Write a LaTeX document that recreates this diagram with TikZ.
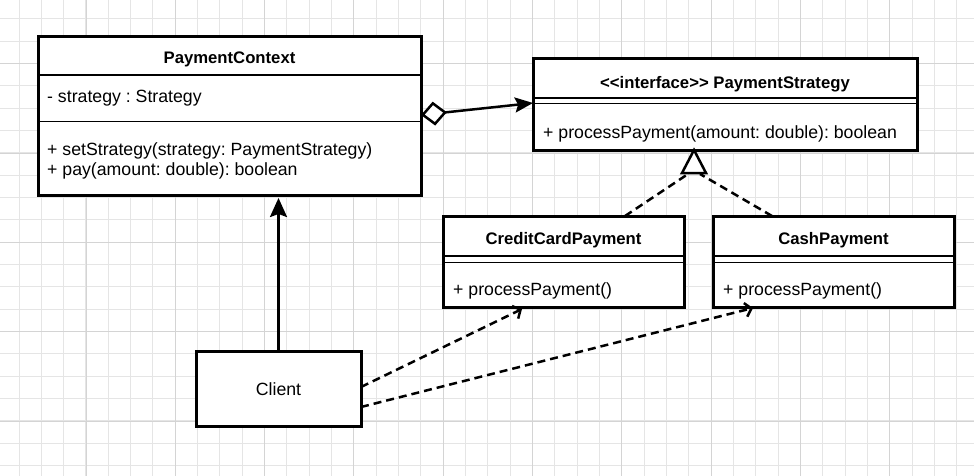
\documentclass[tikz,border=0pt]{standalone}
\usepackage{fontspec}
\setmainfont{Liberation Sans}
\usetikzlibrary{arrows.meta,calc}

\definecolor{gridminor}{gray}{0.9}
\definecolor{gridmajor}{gray}{0.83}

\tikzset{
  umlbox/.style={draw=black, line width=3pt, fill=white, rectangle,
                 inner sep=0pt, outer sep=0pt, anchor=north west},
  headrule/.style={line width=2pt},
  thinrule/.style={line width=1pt},
  classname/.style={font=\fontsize{16.7}{20}\selectfont\bfseries, inner sep=0pt, anchor=base},
  member/.style={font=\fontsize{17.7}{20}\selectfont, inner sep=0pt, anchor=base west},
  link/.style={line width=2.5pt},
  dashlink/.style={link, dash pattern=on 8pt off 5pt},
  minorline/.style={draw=gridminor, line width=1pt},
  majorline/.style={draw=gridmajor, line width=1pt},
}

\begin{document}
\frenchspacing
\begin{tikzpicture}[x=1pt, y=-1pt]
\useasboundingbox (0,0) rectangle (974,476);
\fill[white] (0,0) rectangle (974,476);

% background grid
\foreach \k in {0,...,42} \draw[minorline] ({19+22.33*\k},0) -- ++(0,476);
\foreach \k in {0,...,20} \draw[minorline] (0,{19+22.33*\k}) -- ++(974,0);
\foreach \k in {0,...,9} \draw[majorline] ({86+89.33*\k},0) -- ++(0,476);
\foreach \k in {0,...,4} \draw[majorline] (0,{63.7+89.33*\k}) -- ++(974,0);

% PaymentContext
\node[umlbox, minimum width=383pt, minimum height=158pt] (pc) at (38,37) {};
\draw[headrule] ($(pc.north west)+(0,38)$) -- ($(pc.north east)+(0,38)$);
\draw[thinrule] ($(pc.north west)+(0,85)$) -- ($(pc.north east)+(0,85)$);
\node[classname] (pcname) at (229.5,64) {PaymentContext};
\node[member] (pcattr) at (47,103) {- strategy : Strategy};
\node[member] (pcset) at (47,155) {+ setStrategy(strategy: PaymentStrategy)};
\node[member] (pcpay) at (47,175) {+ pay(amount: double): boolean};

% PaymentStrategy interface
\node[umlbox, minimum width=384pt, minimum height=91pt] (ps) at (533,59) {};
\draw[headrule] ($(ps.north west)+(0,39)$) -- ($(ps.north east)+(0,39)$);
\draw[thinrule] ($(ps.north west)+(0,45)$) -- ($(ps.north east)+(0,45)$);
\node[classname] (psname) at (725,88.3) {<{}<interface>{}> PaymentStrategy};
\node[member] (psproc) at (543,138.3) {+ processPayment(amount: double): boolean};

% CreditCardPayment
\node[umlbox, minimum width=241pt, minimum height=91pt] (ccp) at (443,216) {};
\draw[headrule] ($(ccp.north west)+(0,40)$) -- ($(ccp.north east)+(0,40)$);
\draw[thinrule] ($(ccp.north west)+(0,46)$) -- ($(ccp.north east)+(0,46)$);
\node[classname] (ccpname) at (563.5,244.3) {CreditCardPayment};
\node[member] (ccpproc) at (453,295) {+ processPayment()};

% CashPayment
\node[umlbox, minimum width=241pt, minimum height=91pt] (cash) at (713,216) {};
\draw[headrule] ($(cash.north west)+(0,40)$) -- ($(cash.north east)+(0,40)$);
\draw[thinrule] ($(cash.north west)+(0,46)$) -- ($(cash.north east)+(0,46)$);
\node[classname] (cashname) at (833.5,244.3) {CashPayment};
\node[member] (cashproc) at (723,295) {+ processPayment()};

% Client
\node[umlbox, minimum width=165pt, minimum height=75pt] (client) at (196,351) {};
\node[member, anchor=base] (clientname) at (278.5,395) {Client};

% Client uses PaymentContext
\coordinate (pcin) at ($(client.north |- pc.south)+(0,3)$);
\draw[link, -{Stealth[length=19pt, width=17pt, inset=3pt]}] (client.north) -- (pcin);

% aggregation PaymentContext -> PaymentStrategy
\coordinate (aggfrom) at ($(pc.north east)+(0,78)$);
\coordinate (aggto) at ($(ps.north west)+(0,44)$);
\draw[link, {Diamond[fill=white, length=26pt, width=24pt]}-{Stealth[length=18pt, width=15pt, inset=3pt]}]
  (aggfrom) -- (aggto);

% realization triangle under the interface
\coordinate (tip) at ($(ps.south west)+(161,0)$);
\coordinate (trileft) at ($(tip)+(-6,24)$);
\coordinate (triright) at ($(tip)+(6,24)$);
\draw[link, fill=white, line join=miter] (tip) -- ++(-12,23) -- ++(24,0) -- cycle;
\coordinate (ccptop) at ($(ccp.north west)+(182,0)$);
\coordinate (cashtop) at ($(cash.north west)+(59,0)$);
\draw[dashlink] (ccptop) -- (trileft);
\draw[dashlink] (cashtop) -- (triright);

% Client depends on the concrete strategies
\coordinate (clientup) at ($(client.north east)+(0,36)$);
\coordinate (clientdown) at ($(client.north east)+(0,56)$);
\coordinate (ccpin) at ($(ccp.south west)+(79,2)$);
\coordinate (cashin) at ($(cash.south west)+(40,1)$);
\draw[dashlink, -{Straight Barb[length=6pt, width=14pt]}] (clientup) -- (ccpin);
\draw[dashlink, -{Straight Barb[length=6pt, width=14pt]}] (clientdown) -- (cashin);
\end{tikzpicture}
\end{document}
